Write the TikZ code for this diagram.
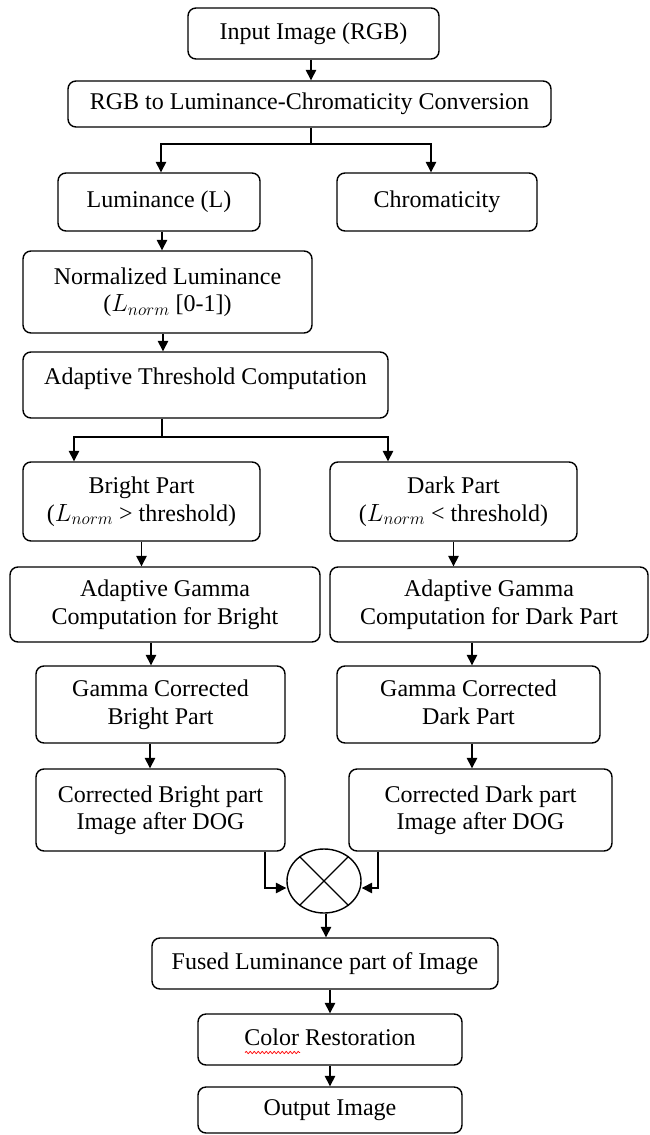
\documentclass[tikz,border=0pt]{standalone}
\usepackage{fontspec}
\setmainfont{Liberation Serif}
\usetikzlibrary{arrows.meta,shapes.geometric,decorations.pathmorphing}

\begin{document}
\begin{tikzpicture}[x=1pt,y=-1pt,
  stage/.style={draw, rounded corners=8pt, line width=1.4pt, inner sep=0pt,
    align=center, text depth=5pt, font=\fontsize{24}{27.5}\selectfont},
  flow/.style={line width=1.4pt, -{Triangle[length=10.5pt,width=10.5pt]}},
  link/.style={line width=1.4pt}]
\useasboundingbox (0,0) rectangle (650,1135);
\fill[white] (0,0) rectangle (650,1135);

% --- stages -------------------------------------------------------------
\node[stage, minimum width=251pt, minimum height=51pt] (in) at (313.5,33.5) {Input Image (RGB)};
\node[stage, minimum width=483pt, minimum height=46pt] (conv) at (309.5,104) {RGB to Luminance-Chromaticity Conversion};
\node[stage, minimum width=202pt, minimum height=58pt] (lum) at (159,202) {Luminance (L)};
\node[stage, minimum width=200pt, minimum height=58pt] (chrom) at (437,202) {Chromaticity};
\node[stage, minimum width=289pt, minimum height=82pt] (norm) at (167.5,292) {Normalized Luminance\\($L_{norm}$ [0-1])};
\node[stage, minimum width=365pt, minimum height=66pt, text depth=17pt] (thr) at (205.5,385) {Adaptive Threshold Computation};
\node[stage, minimum width=237pt, minimum height=79pt] (bright) at (141.5,501.5) {Bright Part\\($L_{norm}$ > threshold)};
\node[stage, minimum width=247pt, minimum height=79pt] (dark) at (453.5,501.5) {Dark Part\\($L_{norm}$ < threshold)};
\node[stage, minimum width=310pt, minimum height=75pt] (gb) at (165,604.5) {Adaptive Gamma\\Computation for Bright};
\node[stage, minimum width=318pt, minimum height=75pt] (gd) at (489,604.5) {Adaptive Gamma\\Computation for Dark Part};
\node[stage, minimum width=249pt, minimum height=77pt] (gcb) at (160.5,704.5) {Gamma Corrected\\Bright Part};
\node[stage, minimum width=263pt, minimum height=77pt] (gcd) at (468.5,704.5) {Gamma Corrected\\Dark Part};
\node[stage, minimum width=249pt, minimum height=82pt] (cb) at (160.5,810) {Corrected Bright part\\Image after DOG};
\node[stage, minimum width=263pt, minimum height=82pt] (cd) at (480.5,810) {Corrected Dark part\\Image after DOG};
\node[draw, ellipse, line width=1.4pt, inner sep=0pt, minimum width=74pt, minimum height=64pt] (fuse) at (324,881) {};
\node[stage, minimum width=346pt, minimum height=51pt] (fused) at (325,963.5) {Fused Luminance part of Image};
\node[stage, minimum width=264pt, minimum height=51pt] (color) at (330,1039.5) {Color Restoration};
\node[stage, minimum width=264pt, minimum height=46pt] (out) at (330,1110) {Output Image};

% multiplication cross inside the fusion node
\draw[line width=1.1pt] (fuse.45) -- (fuse.225) (fuse.135) -- (fuse.315);

% spell-check underline beneath "Color"
\draw[red, line width=0.7pt, decorate, decoration={snake, segment length=4pt, amplitude=1.1pt}]
  ([xshift=-85pt,yshift=-13pt]color.center) -- ++(55,0);

% --- connectors ---------------------------------------------------------
\draw[flow] ([xshift=-2.5pt]in.south) -- ([xshift=-2.5pt]in.south |- conv.north);

\coordinate (split1) at (311,144);
\draw[link] (conv.south -| split1) -- (split1);
\draw[flow] (split1) -| ([xshift=2pt]lum.north);
\draw[flow] (split1) -| ([xshift=-6pt]chrom.north);

\draw[flow] ([xshift=3pt]lum.south) -- ([xshift=3pt]lum.south |- norm.north);
\draw[flow] ([xshift=-4.5pt]norm.south) -- ([xshift=-4.5pt]norm.south |- thr.north);

\coordinate (split2) at (162,437);
\draw[link] (thr.south -| split2) -- (split2);
\draw[flow] (split2) -| ([xshift=-67.5pt]bright.north);
\draw[flow] (split2) -| ([xshift=-65.5pt]dark.north);

\draw[flow] (bright.south) -- (bright.south |- gb.north);
\draw[flow] (dark.south) -- (dark.south |- gd.north);

\draw[flow] ([xshift=-9.5pt]gcb.north |- gb.south) -- ([xshift=-9.5pt]gcb.north);
\draw[flow] ([xshift=-10.5pt]gcb.south) -- ([xshift=-10.5pt]gcb.south |- cb.north);

\draw[flow] ([xshift=3.5pt]gcd.north |- gd.south) -- ([xshift=3.5pt]gcd.north);
\draw[flow] ([xshift=3.5pt]gcd.south) -- ([xshift=3.5pt]gcd.south |- cd.north);

\draw[flow] ([xshift=104.5pt]cb.south) |- ([yshift=-7pt]fuse.west);
\draw[flow] ([xshift=-102.5pt]cd.south) |- ([yshift=-7pt]fuse.east);

\draw[flow] ([xshift=2pt]fuse.south) -- ([xshift=2pt]fuse.south |- fused.north);
\draw[flow] (color.north |- fused.south) -- (color.north);
\draw[flow] (color.south) -- (color.south |- out.north);
\end{tikzpicture}
\end{document}
